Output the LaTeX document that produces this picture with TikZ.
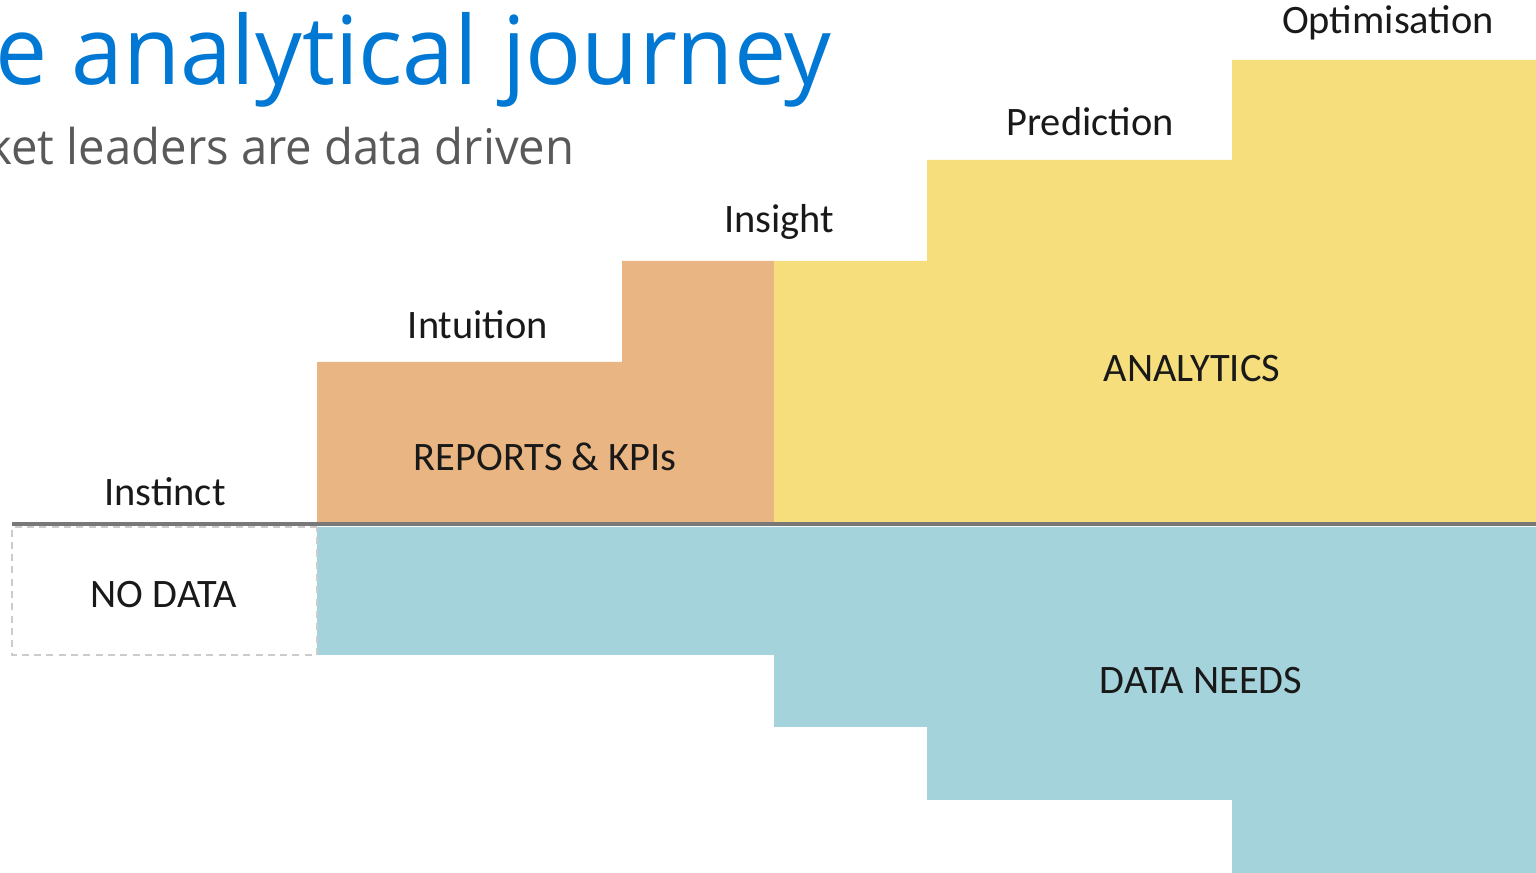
\documentclass[tikz,border=0pt]{standalone}
\usepackage{fontspec}
\setmainfont{Carlito}
\newfontfamily\titlefont[FakeStretch=0.98]{Open Sans}
\newfontfamily\subfont[FakeStretch=0.96]{Open Sans}
\usetikzlibrary{positioning}
\definecolor{titleblue}{RGB}{0,120,212}
\definecolor{subgray}{RGB}{89,89,89}
\definecolor{reportcol}{RGB}{233,181,130}
\definecolor{analytcol}{RGB}{245,222,123}
\definecolor{needcol}{RGB}{165,211,219}
\definecolor{linegray}{RGB}{120,120,120}

\begin{document}
\begin{tikzpicture}[every node/.style={font=\fontsize{11.5}{13}\selectfont, text=black!90}]
\useasboundingbox (0,0) rectangle (15.36,8.73);
\clip (0,0) rectangle (15.36,8.73);

% Titulo
\node[anchor=base east, inner sep=0, text=titleblue, font=\titlefont\fontsize{27}{32}\selectfont] (title) at (8.32,7.88) {The analytical journey};
\node[anchor=base east, inner sep=0, text=subgray, font=\subfont\fontsize{14}{17}\selectfont] (subtitle) at (5.75,7.08) {Market leaders are data driven};

% Blocos
\fill[reportcol] (3.17,3.51) -- (3.17,5.11) -- (6.22,5.11) -- (6.22,6.12) -- (7.74,6.12) -- (7.74,3.51) -- cycle;
\fill[analytcol] (7.74,3.51) -- (7.74,6.12) -- (9.27,6.12) -- (9.27,7.13) -- (12.32,7.13) -- (12.32,8.13) -- (15.36,8.13) -- (15.36,3.51) -- cycle;
\fill[needcol] (3.17,3.46) -- (15.36,3.46) -- (15.36,0) -- (12.32,0) -- (12.32,0.73) -- (9.27,0.73) -- (9.27,1.46) -- (7.74,1.46) -- (7.74,2.18) -- (3.17,2.18) -- cycle;
\draw[dash pattern=on 2pt off 1.5pt, gray!40, line width=0.8pt] (3.17,3.46) -- (0.12,3.46) -- (0.12,2.18) -- (3.17,2.18) -- cycle;

% Linha
\draw[linegray, line width=1.1pt] (0.12,3.49) -- (15.36,3.49);

% Etapas
\node (instinct) at (1.65,3.81) {Instinct};
\node (intuition) at (4.78,5.48) {Intuition};
\node (insight) at (7.79,6.51) {Insight};
\node (prediction) at (10.90,7.51) {Prediction};
\node (optim) at (13.88,8.50) {Optimisation};

% Rotulos
\node (nodata) at (1.64,2.78) {NO DATA};
\node (reports) at (5.45,4.16) {REPORTS \& KPIs};
\node (analytics) at (11.92,5.04) {ANALYTICS};
\node (needs) at (12.01,1.92) {DATA NEEDS};
\end{tikzpicture}
\end{document}
